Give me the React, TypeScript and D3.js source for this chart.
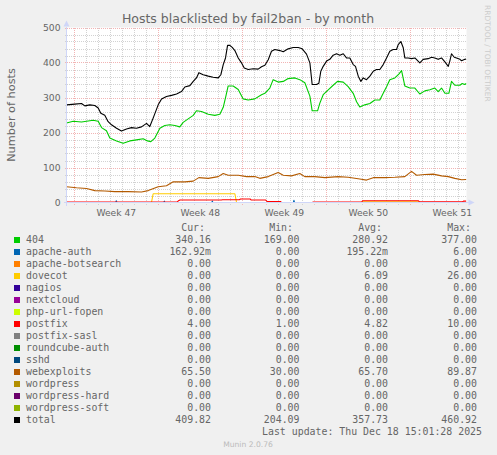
import React from 'react';
import * as d3 from 'd3';

// ---------- data (time in days from graph start, value = hosts) ----------
const totalSeries: [number, number][] = [
  [0.0,279],[0.69,281],[1.25,283],[1.53,276],[1.94,279],[2.36,277],[2.64,270],[2.86,255],[3.19,249],[3.47,231],[3.75,222],[4.17,212],[4.58,204],[5.0,210],[5.42,214],[5.83,212],[6.25,216],[6.67,226],[6.94,217],[7.22,241],[7.64,279],[7.92,296],[8.33,303],[8.75,306],[9.17,310],[9.58,317],[9.86,330],[10.28,334],[10.56,346],[10.83,356],[11.03,371],[11.39,365],[11.81,361],[12.22,358],[12.64,356],[12.86,365],[13.06,394],[13.25,413],[13.42,449],[13.61,449],[13.81,443],[14.03,434],[14.31,413],[14.58,399],[14.81,384],[15.14,380],[15.56,382],[15.97,381],[16.25,388],[16.53,392],[16.81,408],[17.08,432],[17.36,437],[17.78,434],[18.06,431],[18.47,439],[18.89,443],[19.31,443],[19.64,439],[20.0,424],[20.28,399],[20.47,337],[20.83,337],[21.03,341],[21.19,375],[21.39,389],[21.67,404],[21.94,409],[22.22,421],[22.5,425],[22.78,421],[23.06,425],[23.33,413],[23.61,413],[23.89,394],[24.08,389],[24.31,361],[24.53,346],[24.72,356],[25.0,351],[25.28,361],[25.56,375],[25.83,380],[26.11,380],[26.39,394],[26.67,413],[26.94,432],[27.22,437],[27.5,437],[27.64,451],[27.86,460],[28.06,442],[28.19,413],[28.47,413],[28.75,411],[29.03,413],[29.44,399],[29.72,409],[30.14,411],[30.42,415],[30.69,413],[30.97,409],[31.25,413],[31.53,402],[31.81,389],[31.94,404],[32.08,425],[32.31,415],[32.5,413],[32.78,409],[32.92,405],[33.19,409],[33.3,410],
];

const series404: [number, number][] = [
  [0,227],[0.56,232],[1.25,230],[1.67,232],[2.22,235],[2.64,232],[2.92,214],[3.33,205],[3.61,184],[4.17,176],[4.72,169],[5.28,176],[5.83,179],[6.39,182],[6.75,176],[7.03,174],[7.36,184],[7.78,212],[8.19,220],[8.61,222],[9.03,220],[9.44,216],[9.72,229],[10.14,239],[10.56,249],[10.83,262],[11.25,260],[11.81,252],[12.36,249],[12.78,252],[13.06,272],[13.28,304],[13.47,333],[13.89,333],[14.31,323],[14.72,296],[15.14,293],[15.69,296],[16.25,308],[16.53,312],[16.94,327],[17.22,351],[17.64,344],[18.06,346],[18.47,354],[19.03,356],[19.44,351],[19.86,342],[20.28,304],[20.47,262],[20.92,262],[21.11,284],[21.39,308],[21.81,322],[22.22,335],[22.58,346],[23.06,344],[23.47,331],[23.89,312],[24.17,288],[24.44,273],[24.86,279],[25.28,283],[25.69,293],[26.11,293],[26.39,312],[26.67,331],[26.94,351],[27.36,356],[27.69,367],[27.92,377],[28.19,333],[28.61,327],[29.03,327],[29.44,310],[29.86,319],[30.28,322],[30.69,327],[30.97,317],[31.25,327],[31.53,312],[31.86,312],[32.08,346],[32.36,335],[32.78,335],[32.97,340],[33.19,337],[33.3,340],
];

const webexploitsSeries: [number, number][] = [
  [0,45],[0.83,42],[1.67,40],[2.36,34],[3.19,33],[4.03,31],[5.14,31],[6.25,30],[6.81,34],[7.64,45],[8.33,48],[8.89,59],[9.86,59],[10.56,61],[11.03,71],[11.81,69],[12.64,74],[13.06,83],[13.47,78],[14.31,78],[15.0,74],[15.69,74],[16.11,69],[16.81,74],[17.64,86],[18.06,78],[18.75,76],[19.44,83],[19.86,74],[20.69,74],[21.53,71],[22.64,74],[23.47,72],[24.44,67],[25.0,64],[25.56,71],[26.53,71],[27.36,72],[28.19,74],[28.75,89],[29.17,78],[29.86,80],[30.56,81],[31.25,76],[31.81,74],[32.36,69],[32.92,65],[33.3,65.5],
];

const apacheAuthSeries: [number, number][] = [
  [0,0],[4.1,0],[4.15,5],[4.2,0],[8.1,0],[8.15,4],[8.2,0],[12.1,0],[12.15,4],[12.2,0],[18.9,0],[18.95,6],[19.0,0],[33.3,0],
];

const dovecotSeries: [number, number][] = [
  [0,0],[7.08,0],[7.22,25],[14.03,25],[14.17,0],[24.6,0],[24.67,2],[29.33,2],[29.4,0],[33.3,0],
];

const postfixSeries: [number, number | null][] = [
  [0,1],[9.2,1],[9.3,4],[9.45,7],[12.9,7],[13.0,8],[14.4,8],[14.5,10],[15.3,10],[15.4,7],[16.6,7],[16.7,3],[17.9,3],[17.95,null],
  [20.5,1],[24.6,1],[24.67,5],[29.33,5],[29.4,2],[33.0,2],[33.1,4],[33.3,4],
];

const apacheBotsearchSeries: [number, number][] = [[14.2,0],[20.5,0]];
const nagiosSeries: [number, number][] = [[14.2,0],[20.5,0]];
const nextcloudSeries: [number, number][] = [[14.2,0],[20.5,0]];
const phpUrlFopenSeries: [number, number][] = [[14.2,0],[20.5,0]];
const postfixSaslSeries: [number, number][] = [[14.2,0],[20.5,0]];
const roundcubeAuthSeries: [number, number][] = [[14.2,0],[20.5,0]];
const sshdSeries: [number, number][] = [[14.2,0],[20.5,0]];
const wordpressSeries: [number, number][] = [[14.2,0],[20.5,0]];
const wordpressHardSeries: [number, number][] = [[14.2,0],[20.5,0]];
const wordpressSoftSeries: [number, number][] = [[14.2,0],[20.5,0]];

const legendNames = ['404','apache-auth','apache-botsearch','dovecot','nagios','nextcloud','php-url-fopen','postfix','postfix-sasl','roundcube-auth','sshd','webexploits','wordpress','wordpress-hard','wordpress-soft','total'];
const legendColors = ['#00CC00','#0066B3','#FF8000','#FFCC00','#330099','#990099','#CCFF00','#FF0000','#808080','#008F00','#00487D','#B35A00','#B38F00','#6B006B','#8FB300','#000000'];
const curValues = ['340.16','162.92m','0.00','0.00','0.00','0.00','0.00','4.00','0.00','0.00','0.00','65.50','0.00','0.00','0.00','409.82'];
const minValues = ['169.00','0.00','0.00','0.00','0.00','0.00','0.00','1.00','0.00','0.00','0.00','30.00','0.00','0.00','0.00','204.09'];
const avgValues = ['280.92','195.22m','0.00','6.09','0.00','0.00','0.00','4.82','0.00','0.00','0.00','65.70','0.00','0.00','0.00','357.73'];
const maxValues = ['377.00','6.00','0.00','26.00','0.00','0.00','0.00','10.00','0.00','0.00','0.00','89.87','0.00','0.00','0.00','460.92'];

const yTicks = [0, 100, 200, 300, 400, 500];
const weekStarts = [0.65, 7.65, 14.65, 21.65, 28.65];
const weekLabels = ['Week 47', 'Week 48', 'Week 49', 'Week 50', 'Week 51'];
const totalDays = 33.33;

const titleText = 'Hosts blacklisted by fail2ban - by month';
const yLabel = 'Number of hosts';
const lastUpdate = 'Last update: Thu Dec 18 15:01:28 2025';
const footer = 'Munin 2.0.76';
const watermark = 'RRDTOOL / TOBI OETIKER';

export default function App() {
  const W = 497, H = 455;
  const x = d3.scaleLinear().domain([0, totalDays]).range([66.5, 466.5]);
  const y = d3.scaleLinear().domain([0, 500]).range([202.5, 27.5]);

  const seriesList: [number, number | null][][] = [
    series404, apacheAuthSeries, apacheBotsearchSeries, dovecotSeries, nagiosSeries, nextcloudSeries,
    phpUrlFopenSeries, postfixSeries, postfixSaslSeries, roundcubeAuthSeries, sshdSeries, webexploitsSeries,
    wordpressSeries, wordpressHardSeries, wordpressSoftSeries, totalSeries,
  ];

  const line = d3.line<[number, number | null]>()
    .defined(d => d[1] != null)
    .x(d => x(d[0]))
    .y(d => y(d[1] as number));

  const minorY = d3.range(20, 500, 20).filter(v => v % 100 !== 0);
  const majorY = d3.range(100, 501, 100);
  const days = d3.range(0, 34).map(k => weekStarts[0] + k).filter(t => t <= totalDays);
  const minorX = days.filter(t => !weekStarts.some(w => Math.abs(w - t) < 1e-6));

  const [y0, y1] = y.range();
  const [x0, x1] = x.range();
  const axisColor = '#CFD6F8';
  const fontColor = '#666666';
  const sans = 'DejaVu Sans, sans-serif';
  const mono = 'DejaVu Sans Mono, monospace';

  const legendBase = 243;
  const rowH = 12;

  return (
    <svg width={W} height={H} style={{ position: 'absolute', left: 0, top: 0 }} xmlns="http://www.w3.org/2000/svg">
      <rect x={0} y={0} width={W} height={H} fill="#F0F0F0" />
      <rect x={x0} y={y1} width={x1 - x0} height={y0 - y1} fill="#FFFFFF" />

      {/* minor grid */}
      <g stroke="#D2D2D2" strokeWidth={1} strokeDasharray="1,1" shapeRendering="crispEdges">
        {minorY.map(v => (
          <line key={'my' + v} x1={x0 - 2} x2={x1} y1={Math.round(y(v)) + 0.5} y2={Math.round(y(v)) + 0.5} />
        ))}
        {minorX.map(t => (
          <line key={'mx' + t} x1={Math.round(x(t)) + 0.5} x2={Math.round(x(t)) + 0.5} y1={y1} y2={y0 + 2} />
        ))}
      </g>
      {/* major grid */}
      <g stroke="#F2B4B4" strokeWidth={1} strokeDasharray="1,1" shapeRendering="crispEdges">
        {majorY.map(v => (
          <line key={'My' + v} x1={x0 - 2} x2={x1} y1={Math.round(y(v)) + 0.5} y2={Math.round(y(v)) + 0.5} />
        ))}
        {weekStarts.map(t => (
          <line key={'Mx' + t} x1={Math.round(x(t)) + 0.5} x2={Math.round(x(t)) + 0.5} y1={y1} y2={y0 + 3} />
        ))}
      </g>

      {/* series */}
      <g fill="none" strokeWidth={1.1} strokeLinejoin="round">
        {seriesList.map((s, i) => (
          <path key={legendNames[i]} d={line(s) || ''} stroke={legendColors[i]} />
        ))}
      </g>

      {/* axes */}
      <g shapeRendering="crispEdges">
        <line x1={x0 - 3} x2={x1 + 3} y1={y0} y2={y0} stroke={axisColor} />
        <line x1={x0} x2={x0} y1={y0 + 3} y2={y1 - 1} stroke={axisColor} />
      </g>
      <path d={`M${x1 + 2},${y0 - 3} L${x1 + 8},${y0} L${x1 + 2},${y0 + 3} Z`} fill={axisColor} />
      <path d={`M${x0 - 3},${y1 - 1} L${x0},${y1 - 7} L${x0 + 3},${y1 - 1} Z`} fill={axisColor} />

      {/* y tick labels */}
      <g fontFamily={sans} fontSize={9.2} fill={fontColor} textAnchor="end">
        {yTicks.map(v => (
          <text key={'yt' + v} x={60.5} y={y(v) + 3.4}>{v}</text>
        ))}
      </g>
      {/* week labels */}
      <g fontFamily={sans} fontSize={9.2} fill={fontColor} textAnchor="middle">
        {weekStarts.map((t, i) => (
          <text key={'wl' + i} x={x(t + 3.5)} y={216}>{weekLabels[i]}</text>
        ))}
      </g>

      {/* title */}
      <text x={248} y={23} textAnchor="middle" fontFamily={sans} fontSize={12.5} fill={fontColor}>{titleText}</text>
      {/* y label */}
      <text transform="translate(15,115) rotate(-90)" textAnchor="middle" fontFamily={sans} fontSize={11.3} fill={fontColor}>{yLabel}</text>
      {/* watermark */}
      <text transform="translate(485,5) rotate(90)" fontFamily={sans} fontSize={7.5} fill="#CCCCCC">{watermark}</text>

      {/* legend */}
      <g fontFamily={mono} fontSize={9.9} fill={fontColor}>
        <text x={205} y={231} textAnchor="end">Cur:</text>
        <text x={293} y={231} textAnchor="end">Min:</text>
        <text x={382} y={231} textAnchor="end">Avg:</text>
        <text x={471} y={231} textAnchor="end">Max:</text>
        {legendNames.map((name, i) => {
          const by = legendBase + i * rowH;
          return (
            <g key={'lg' + name}>
              <rect x={14} y={by - 6} width={6} height={6} fill={legendColors[i]} />
              <text x={26} y={by}>{name}</text>
              <text x={211} y={by} textAnchor="end">{curValues[i]}</text>
              <text x={299.5} y={by} textAnchor="end">{minValues[i]}</text>
              <text x={388} y={by} textAnchor="end">{avgValues[i]}</text>
              <text x={477} y={by} textAnchor="end">{maxValues[i]}</text>
            </g>
          );
        })}
        <text x={482} y={435} textAnchor="end">{lastUpdate}</text>
      </g>
      <text x={248} y={446.5} textAnchor="middle" fontFamily={sans} fontSize={7.6} fill="#BBBBBB">{footer}</text>
    </svg>
  );
}
